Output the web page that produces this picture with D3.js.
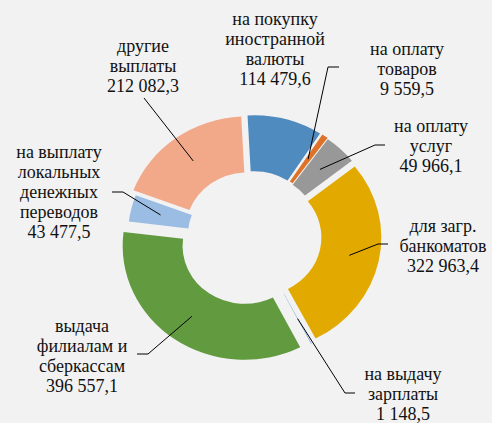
<!DOCTYPE html>
<html lang="ru"><head><meta charset="utf-8">
<script src="https://cdn.jsdelivr.net/npm/d3@7"></script>
</head><body style="margin:0;background:#f2f2f2">
<script>
// данные
var categories = ["на покупку иностранной валюты", "на оплату товаров", "на оплату услуг",
                  "для загр. банкоматов", "на выдачу зарплаты", "выдача филиалам и сберкассам",
                  "на выплату локальных денежных переводов", "другие выплаты"];
var values = [114479.6, 9559.5, 49966.1, 322963.4, 1148.5, 396557.1, 43477.5, 212082.3];
var labelLines = [
  ["на покупку", "иностранной", "валюты"],
  ["на оплату", "товаров"],
  ["на оплату", "услуг"],
  ["для загр.", "банкоматов"],
  ["на выдачу", "зарплаты"],
  ["выдача", "филиалам и", "сберкассам"],
  ["на выплату", "локальных", "денежных", "переводов"],
  ["другие", "выплаты"]
];
var colors = ["#4f8bbf", "#dd7228", "#989898", "#e2aa00", "#7fa6d9", "#629a40", "#9bbde4", "#f2a98a"];

// раскладка
var width = 492, height = 423;
var cx = 252, cy = 236, sx = 1.07;
var R = 114, r = 58;
var explode = [7, 7, 6, 7, 7, 12, 2, 7];
var labelPos = [[275, 25], [407, 55], [431, 132], [443, 232], [403, 380], [82, 332], [59, 158], [143, 52]];
var leaders = [null, [[339, 67], [328, 67]], [[385, 145], [375, 145]], [[388, 244], [378, 244]],
               [[355, 393], [345, 393]], [[137, 354], [148, 354]], [[112, 192], [123, 192]], [[144, 98]]];
var lineH = 20;

var fmt = d3.formatLocale({decimal: ",", thousands: " ", grouping: [3], currency: ["", ""]}).format(",.1f");

var svg = d3.select("body").append("svg")
  .attr("width", width)
  .attr("height", height)
  .style("font-family", "'Times New Roman', 'Liberation Serif', Tinos, serif");

var shift = -3 * Math.PI / 180;
var pie = d3.pie().sort(null).startAngle(shift).endAngle(2 * Math.PI + shift);
var arc = d3.arc().innerRadius(r).outerRadius(R);
var arcs = pie(values);

var offset = function(d, i){ // сдвиг сектора наружу
  var mid = (d.startAngle + d.endAngle) / 2;
  return [sx * explode[i] * Math.sin(mid), -explode[i] * Math.cos(mid)];
};

svg.selectAll("path.slice")
  .data(arcs)
  .enter()
  .append("path")
  .attr("class", "slice")
  .attr("d", arc)
  .attr("fill", function(d, i){ return colors[i]; })
  .attr("transform", function(d, i){
    var o = offset(d, i);
    return "translate(" + (cx + o[0]) + "," + (cy + o[1]) + ") scale(" + sx + ",1)";
  });

// линии выносок
var line = d3.line();
arcs.forEach(function(d, i){
  if (!leaders[i]) return;
  var c = arc.centroid(d), o = offset(d, i);
  var end = [cx + sx * c[0] + o[0], cy + c[1] + o[1]];
  svg.append("path")
    .attr("d", line(leaders[i].concat([end])))
    .attr("fill", "none")
    .attr("stroke", "#000")
    .attr("stroke-width", 1);
});

// подписи
labelLines.forEach(function(lines, i){
  lines.concat([fmt(values[i])]).forEach(function(t, k){
    svg.append("text")
      .attr("x", labelPos[i][0])
      .attr("y", labelPos[i][1] + k * lineH)
      .attr("text-anchor", "middle")
      .attr("font-family", "Times New Roman")
      .attr("font-size", 18)
      .attr("fill", "#111")
      .text(t);
  });
});
</script></body></html>
